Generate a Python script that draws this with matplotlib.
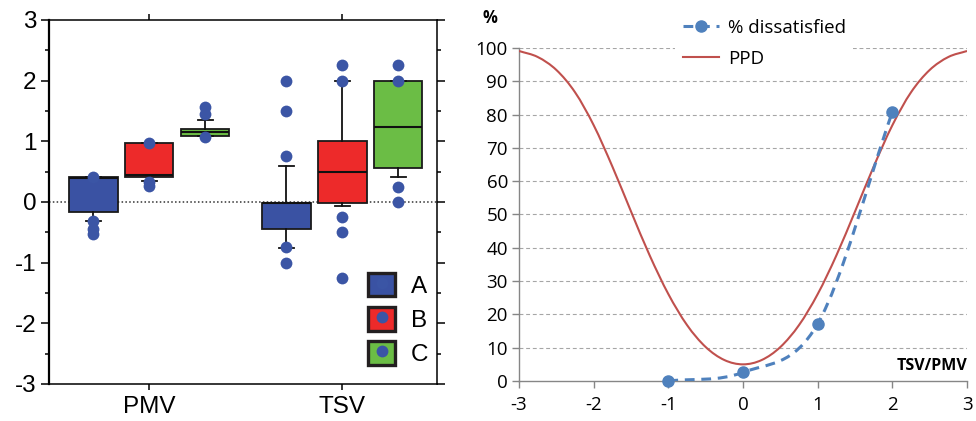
import numpy as np
import matplotlib
matplotlib.use('Agg')
import matplotlib.pyplot as plt
from matplotlib.path import Path
from matplotlib.patches import PathPatch, Patch
from matplotlib.lines import Line2D
from matplotlib.legend_handler import HandlerTuple

plt.rcParams['axes.unicode_minus'] = False

# ---- left panel: box plots
groups = ['PMV', 'TSV']
series = ['A', 'B', 'C']
box_colors = ['#3a52a3', '#ed2a2a', '#6bbd45']
dot_color = '#3b55a5'

pmv_q1 = [-0.16, 0.42, 1.08]
pmv_med = [0.39, 0.44, 1.15]
pmv_q3 = [0.41, 0.97, 1.21]
pmv_lo = [-0.31, 0.35, 1.08]
pmv_hi = [0.41, 0.97, 1.35]
pmv_out = [[0.42, -0.31, -0.45, -0.52], [0.97, 0.33, 0.27], [1.57, 1.45, 1.07]]

tsv_q1 = [-0.44, -0.01, 0.56]
tsv_med = [-0.01, 0.50, 1.24]
tsv_q3 = [-0.01, 1.00, 2.00]
tsv_lo = [-0.76, -0.07, 0.41]
tsv_hi = [0.59, 2.00, 2.00]
tsv_out = [[2.0, 1.5, 0.75, -0.75, -1.0], [2.25, 2.0, -0.25, -0.5, -1.25],
           [2.25, 2.0, 0.24, 0.0]]

# ---- right panel: % dissatisfied vs PPD
ppd_x = [-3, -2.75, -2.5, -2.25, -2, -1.75, -1.5, -1.25, -1, -0.75, -0.5, -0.25, 0,
         0.25, 0.5, 0.75, 1, 1.25, 1.5, 1.75, 2, 2.25, 2.5, 2.75, 3]
ppd_y = [99.1, 97.3, 93.4, 86.7, 76.8, 64.4, 50.9, 37.7, 26.1, 16.8, 10.2, 6.3, 5.0,
         6.3, 10.2, 16.8, 26.1, 37.7, 50.9, 64.4, 76.8, 86.7, 93.4, 97.3, 99.1]
diss_x = [-1, 0, 1, 2]
diss_y = [0.0, 2.6, 17.2, 80.8]


def smooth_path(x, y):
    # Catmull-Rom style bezier through the points (like Excel's smoothed line)
    p = np.column_stack([x, y]).astype(float)
    ext = np.vstack([2 * p[0] - p[1], p, 2 * p[-1] - p[-2]])
    verts = [p[0]]
    codes = [Path.MOVETO]
    for i in range(1, len(ext) - 2):
        p0, p1, p2, p3 = ext[i - 1], ext[i], ext[i + 1], ext[i + 2]
        verts += [p1 + (p2 - p0) / 6, p2 - (p3 - p1) / 6, p2]
        codes += [Path.CURVE4] * 3
    return Path(verts, codes)


fig = plt.figure(figsize=(9.76, 4.21), dpi=100)

# ================= left =================
ax = fig.add_axes([0.0502, 0.0879, 0.3975, 0.8646])
offsets = [-0.29, 0.0, 0.29]
stats, positions, colors = [], [], []
for g, data in enumerate([(pmv_q1, pmv_med, pmv_q3, pmv_lo, pmv_hi, pmv_out),
                          (tsv_q1, tsv_med, tsv_q3, tsv_lo, tsv_hi, tsv_out)]):
    q1, med, q3, lo, hi, out = data
    for i in range(3):
        stats.append(dict(q1=q1[i], med=med[i], q3=q3[i], whislo=lo[i],
                          whishi=hi[i], fliers=out[i]))
        positions.append(g + 1 + offsets[i])
        colors.append(box_colors[i])

ax.axhline(0, color='#333333', ls=(0, (1, 1.5)), lw=1.1, zorder=1)
bp = ax.bxp(stats, positions=positions, widths=0.25, patch_artist=True,
            capwidths=0.08, manage_ticks=False,
            boxprops=dict(edgecolor='#1a1a1a', linewidth=1.3),
            medianprops=dict(color='#111111', linewidth=1.5),
            whiskerprops=dict(color='#111111', linewidth=1.3),
            capprops=dict(color='#111111', linewidth=1.3),
            flierprops=dict(marker='o', markerfacecolor=dot_color,
                            markeredgecolor='none', markersize=8.5))
for patch, c in zip(bp['boxes'], colors):
    patch.set_facecolor(c)
for fl in bp['fliers']:
    fl.set_zorder(4)

ax.set_xlim(0.48, 2.49)
ax.set_ylim(-3, 3)
ax.set_xticks([1, 2])
ax.set_xticklabels(groups)
ax.set_yticks(range(-3, 4))
ax.set_yticks(np.arange(-2.5, 3, 1), minor=True)
ax.tick_params(axis='y', which='major', direction='out', length=6, width=1.1,
               right=True, labelsize=17.5, pad=3)
ax.tick_params(axis='y', which='minor', direction='out', length=3, width=1.1,
               right=True)
ax.tick_params(axis='x', direction='out', length=4, width=1.1, top=True,
               labelsize=17.5, pad=5)
for lab in ax.get_xticklabels() + ax.get_yticklabels():
    lab.set_family('Liberation Sans')
for s in ax.spines.values():
    s.set_linewidth(1.1)
ax.spines['left'].set_linewidth(1.6)

leg_handles = []
for c in box_colors:
    sq = Patch(facecolor=c, edgecolor='#231f20', linewidth=2.4)
    dot = Line2D([], [], ls='none', marker='o', markersize=8.5,
                 markerfacecolor=dot_color, markeredgecolor='none')
    leg_handles.append((sq, dot))
ax.legend(leg_handles, series, handler_map={tuple: HandlerTuple(ndivide=1)},
          loc='upper left', bbox_to_anchor=(356 / 976, 1 - 261 / 421),
          bbox_transform=fig.transFigure, frameon=False,
          prop={'family': 'Liberation Sans', 'size': 17.5},
          handlelength=1.1, handleheight=1.1, labelspacing=0.38,
          handletextpad=0.65, borderpad=0)

# ================= right =================
bx = fig.add_axes([0.5318, 0.095, 0.459, 0.791])
gray = '#868686'
blue = '#4f81bd'
red = '#c0504d'

bx.add_patch(PathPatch(smooth_path(ppd_x, ppd_y), fill=False, edgecolor=red,
                       lw=1.5, zorder=3))
bx.add_patch(PathPatch(smooth_path(diss_x, diss_y), fill=False, edgecolor=blue,
                       lw=2.2, linestyle=(0, (3.2, 2.2)), capstyle='butt', zorder=3))
bx.plot(diss_x, diss_y, ls='none', marker='o', markersize=8, color=blue,
        clip_on=False, zorder=4)

bx.set_xlim(-3, 3)
bx.set_ylim(0, 100)
bx.set_xticks(range(-3, 4))
bx.set_yticks(range(0, 101, 10))
for s in ['top', 'right']:
    bx.spines[s].set_visible(False)
for s in ['left', 'bottom']:
    bx.spines[s].set_color(gray)
    bx.spines[s].set_linewidth(1.0)
bx.tick_params(axis='both', direction='out', length=5, width=1.0, color=gray,
               labelsize=13.5)
bx.tick_params(axis='x', pad=6)
bx.tick_params(axis='y', pad=3)
for lab in bx.get_xticklabels() + bx.get_yticklabels():
    lab.set_family('Open Sans')
bx.yaxis.grid(True, ls=(0, (3.5, 2.5)), color='#a6a6a6', lw=0.8)
bx.set_axisbelow(True)
bx.get_ygridlines()[0].set_visible(False)

h1 = Line2D([], [], color=blue, lw=2.2, ls=(0, (3.2, 2.2)), marker='o', markersize=8)
h2 = Line2D([], [], color=red, lw=1.5)
bx.legend([h1, h2], ['% dissatisfied', 'PPD'], loc='upper left',
          bbox_to_anchor=(666 / 976, 1 - 2 / 421), bbox_transform=fig.transFigure,
          frameon=True, facecolor='white', edgecolor='none', framealpha=1,
          fancybox=False, prop={'family': 'Open Sans', 'size': 13.5},
          handlelength=1.9, handletextpad=0.5, labelspacing=0.7, borderpad=0.4)

fig.text(490 / 976, 1 - 18 / 421, '%', ha='center', va='center',
         fontsize=12, fontweight='bold', family='Open Sans')
fig.text(967 / 976, 1 - 366 / 421, 'TSV/PMV', ha='right', va='center',
         fontsize=11.5, fontweight='bold', family='Open Sans')

fig.savefig('out.png', dpi=100)
